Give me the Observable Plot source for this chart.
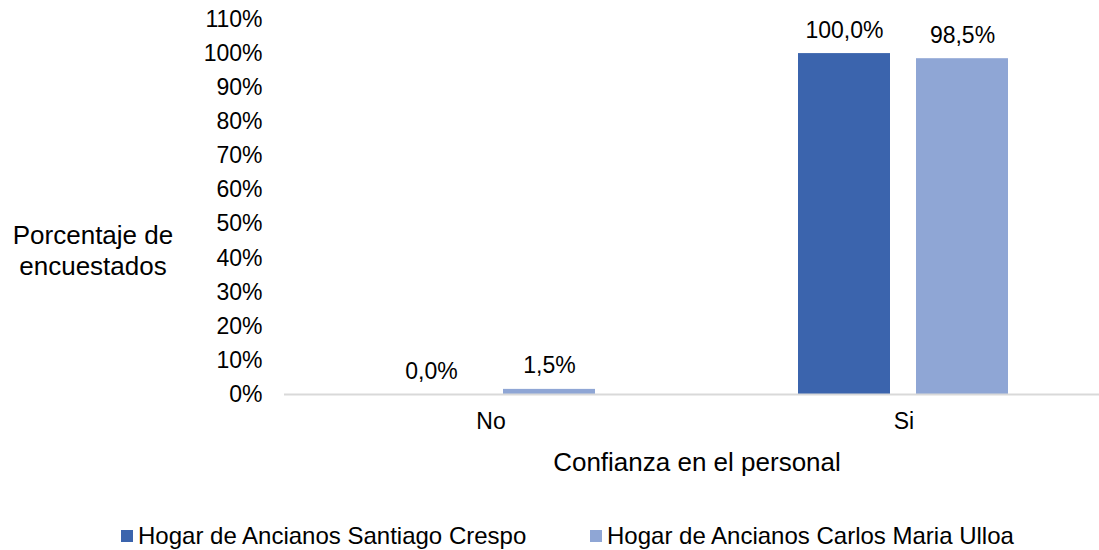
<!DOCTYPE html>
<html>
<head>
<meta charset="utf-8">
<script src="https://cdn.jsdelivr.net/npm/d3@7"></script>
<script src="https://cdn.jsdelivr.net/npm/@observablehq/plot@0.6"></script>
<style>
  html, body { margin: 0; padding: 0; background: #fff; }
  #wrap { position: relative; width: 1099px; height: 550px; font-family: "Liberation Sans", Arial, sans-serif; color: #000; overflow: hidden; }
  #chart svg { overflow: hidden; }
  .ylab { position: absolute; left: 0; width: 186px; top: 220px; text-align: center; font-size: 26px; line-height: 31px; }
  .xlab { position: absolute; left: 447px; width: 500px; top: 447px; text-align: center; font-size: 26px; line-height: 30px; }
  .legend { position: absolute; top: 522px; left: 121px; font-size: 24px; line-height: 28px; white-space: nowrap; }
  .legend .item { position: absolute; top: 0; display: flex; align-items: center; }
  .legend .sw { width: 12px; height: 12px; margin-right: 5px; }
</style>
</head>
<body>
<div id="wrap">
  <div id="chart"></div>
  <div class="ylab">Porcentaje de<br>encuestados</div>
  <div class="xlab">Confianza en el personal</div>
  <div class="legend" id="legend"></div>
</div>
<script>
const categories = ["No", "Si"];
const series = ["Hogar de Ancianos Santiago Crespo", "Hogar de Ancianos Carlos Maria Ulloa"];
const santiagoCrespo = [0.0, 100.0];
const carlosMariaUlloa = [1.5, 98.5];
const yTicks = [0, 10, 20, 30, 40, 50, 60, 70, 80, 90, 100, 110];
const colors = ["#3B64AD", "#8FA6D5"];

const data = [];
categories.forEach((c, i) => {
  data.push({cat: c, series: series[0], value: santiagoCrespo[i]});
  data.push({cat: c, series: series[1], value: carlosMariaUlloa[i]});
});
const fmt = v => v.toFixed(1).replace(".", ",") + "%";

const chart = Plot.plot({
  width: 1099,
  height: 500,
  marginLeft: 284,
  marginRight: 0,
  marginTop: 19,
  marginBottom: 106,
  style: {fontFamily: "Liberation Sans, Arial, sans-serif", fontSize: "23px", color: "#000", overflow: "hidden"},
  fx: {domain: categories, range: [284, 1110], padding: 0, axis: null},
  x: {domain: series, paddingInner: 0.22, paddingOuter: 0.86, axis: null},
  y: {domain: [0, 110], axis: null},
  color: {domain: series, range: colors},
  marks: [
    Plot.barY(data, {fx: "cat", x: "series", y: "value", fill: "series"}),
    Plot.ruleY([0], {stroke: "#d9d9d9", strokeWidth: 2}),
    Plot.text(data, {fx: "cat", x: "series", y: "value", text: d => fmt(d.value), dy: -16, lineAnchor: "bottom", fontSize: 23, fill: "#000"}),
    Plot.axisY({ticks: yTicks, tickFormat: d => d + "%", tickSize: 0, tickPadding: 22, fontSize: 23, label: null}),
    Plot.axisFx({anchor: "bottom", tickSize: 0, tickPadding: 18, fontSize: 23, label: null})
  ]
});
document.getElementById("chart").appendChild(chart);

const legend = document.getElementById("legend");
const lx = [0, 469];
series.forEach((s, i) => {
  const it = document.createElement("div");
  it.className = "item";
  it.style.left = lx[i] + "px";
  const sw = document.createElement("span");
  sw.className = "sw";
  sw.style.background = colors[i];
  const tx = document.createElement("span");
  tx.textContent = s;
  it.appendChild(sw); it.appendChild(tx);
  legend.appendChild(it);
});
</script>
</body>
</html>
